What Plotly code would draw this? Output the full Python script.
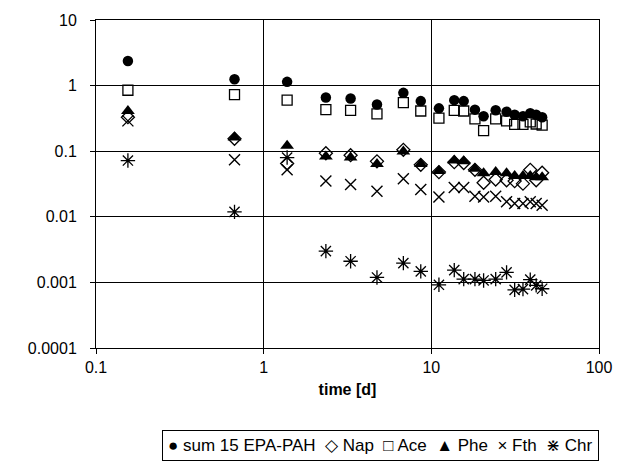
import plotly.graph_objects as go

time_d = [0.155, 0.67, 1.38, 2.35, 3.30, 4.74, 6.81, 8.65, 11.1, 13.7, 15.6, 18.2, 20.5, 24.2, 28.1, 31.4, 35.2, 38.9, 42.2, 45.8]
sum15 = [2.37, 1.25, 1.14, 0.66, 0.635, 0.515, 0.775, 0.58, 0.45, 0.60, 0.58, 0.43, 0.34, 0.42, 0.40, 0.36, 0.34, 0.38, 0.36, 0.33]
nap = [0.33, 0.155, 0.065, 0.093, 0.087, 0.070, 0.105, 0.062, 0.048, 0.068, 0.066, 0.052, 0.033, 0.037, 0.036, 0.035, 0.032, 0.052, 0.036, 0.047]
ace = [0.85, 0.73, 0.60, 0.43, 0.42, 0.37, 0.55, 0.41, 0.32, 0.42, 0.41, 0.31, 0.206, 0.31, 0.29, 0.257, 0.257, 0.28, 0.26, 0.25]
phe = [0.41, 0.162, 0.121, 0.083, 0.080, 0.064, 0.099, 0.064, 0.050, 0.072, 0.070, 0.054, 0.046, 0.048, 0.046, 0.042, 0.042, 0.042, 0.040, 0.040]
fth = [0.29, 0.074, 0.052, 0.035, 0.031, 0.0245, 0.038, 0.026, 0.020, 0.028, 0.028, 0.0205, 0.020, 0.0205, 0.017, 0.016, 0.016, 0.017, 0.016, 0.015]
chr_ = [0.072, 0.0119, 0.08, 0.0030, 0.0021, 0.00119, 0.00197, 0.00147, 0.00092, 0.00154, 0.00112, 0.00112, 0.00107, 0.00112, 0.00142, 0.00077, 0.00079, 0.0011, 0.0009, 0.0008]

x_tickvals = [0.1, 1, 10, 100]
x_ticktext = ["0.1", "1", "10", "100"]
y_tickvals = [0.0001, 0.001, 0.01, 0.1, 1, 10]
y_ticktext = ["0.0001", "0.001", "0.01", "0.1", "1", "10"]

series = [
    ("sum 15 EPA-PAH", "●", sum15, dict(symbol="circle", size=10.5, color="black")),
    ("Nap", "◇", nap, dict(symbol="diamond-open", size=10, color="black", line=dict(width=1.3, color="black"))),
    ("Ace", "□", ace, dict(symbol="square-open", size=10, color="black", line=dict(width=1.3, color="black"))),
    ("Phe", "▲", phe, dict(symbol="triangle-up", size=12, color="black")),
    ("Fth", "×", fth, dict(symbol="x-thin-open", size=11, color="black", line=dict(width=1.4, color="black"))),
    ("Chr", "⋇", chr_, dict(symbol="asterisk-open", size=12, color="black", line=dict(width=1.3, color="black"))),
]

fig = go.Figure()
for name, glyph, vals, mk in series:
    fig.add_trace(go.Scatter(x=time_d, y=vals, mode="markers", name=name, marker=mk))

legend_text = "\u00a0 ".join(f"{g} {n}" for n, g, _, _ in series)

font = dict(family="Liberation Sans, Arial, sans-serif", size=16, color="black")
fig.update_layout(
    width=624, height=466,
    margin=dict(l=96, r=20, t=18, b=118),
    paper_bgcolor="white", plot_bgcolor="white",
    font=font,
    showlegend=False,
    annotations=[dict(text=legend_text, xref="paper", yref="paper", x=0.565, y=-0.297,
                      xanchor="center", yanchor="middle", showarrow=False,
                      bordercolor="black", borderwidth=1, borderpad=5,
                      font=dict(size=17, color="black"))],
)
fig.update_xaxes(type="log", range=[-1, 2], tickvals=x_tickvals, ticktext=x_ticktext,
                 showgrid=True, gridcolor="black", gridwidth=1,
                 showline=True, linecolor="black", linewidth=1, mirror=True,
                 ticks="outside", ticklen=5, tickcolor="black", zeroline=False,
                 title=dict(text="<b>time [d]</b>", standoff=8, font=dict(size=16)))
fig.update_yaxes(type="log", range=[-4, 1], tickvals=y_tickvals, ticktext=y_ticktext,
                 showgrid=True, gridcolor="black", gridwidth=1,
                 showline=True, linecolor="black", linewidth=1, mirror=True,
                 ticks="outside", ticklen=5, tickcolor="black", zeroline=False,
                 ticklabelstandoff=10)

fig.write_html("out.html")
